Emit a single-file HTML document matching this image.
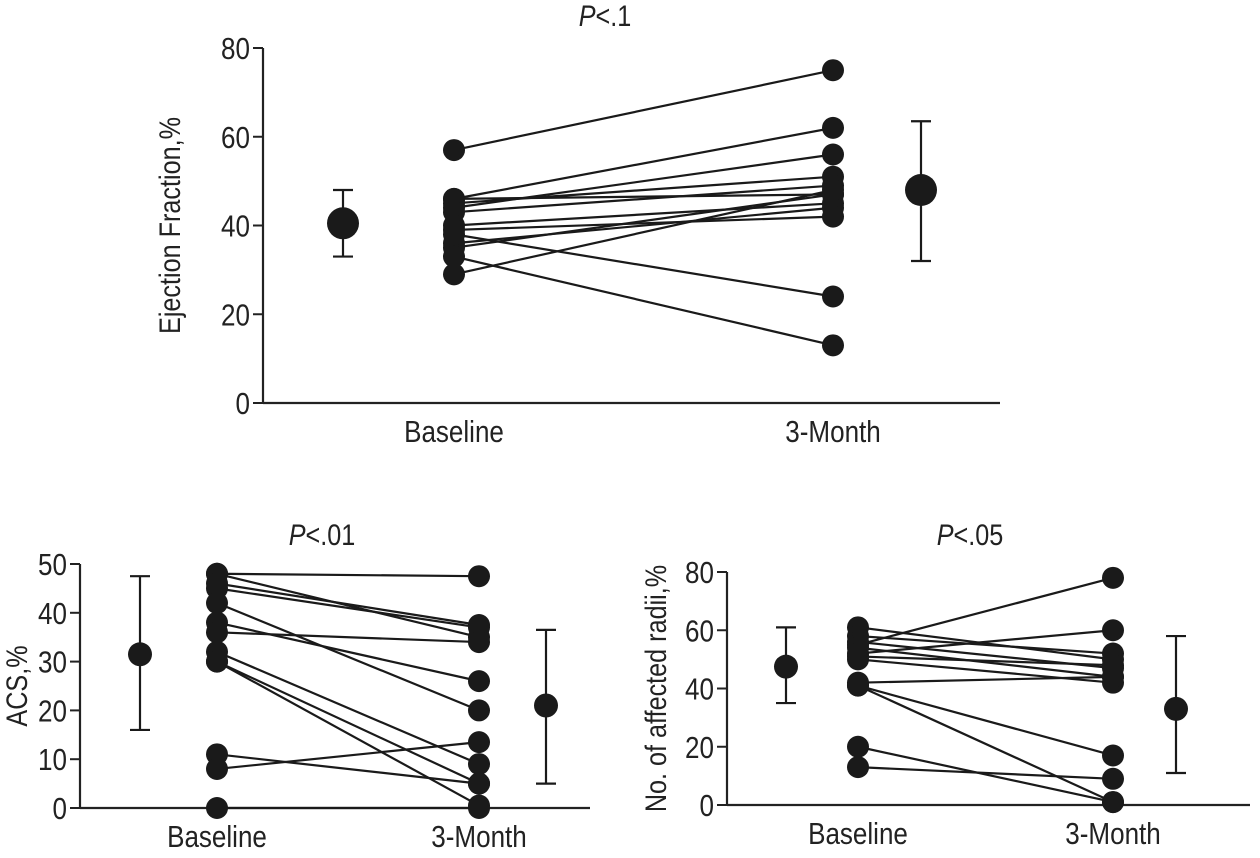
<!DOCTYPE html>
<html><head><meta charset="utf-8"><style>
html,body{margin:0;padding:0;background:#fff;width:1260px;height:858px;overflow:hidden}
svg text{font-family:"Liberation Sans",sans-serif;fill:#222}
</style></head><body>
<svg id="svg" width="1260" height="858" xmlns="http://www.w3.org/2000/svg"></svg>
<script>
// Panel A: Ejection Fraction
const efBaseline=[57,46,44,45,46,43,40,35,36,39,29,38,33];
const efMonth3=[75,62,56,51,47,49,45,47,44,42,48,24,13];
const efMean=[40.5,48];const efErrLo=[33,32];const efErrHi=[48,63.5];
const efTicks=[0,20,40,60,80];
// Panel B: ACS
const acsBaseline=[48,48,46,45,42,38,36,32,30,30,11,8,0];
const acsMonth3=[47.5,35,37.5,37,20,26,34,9,5,0.5,5,13.5,0];
const acsMean=[31.5,21];const acsErrLo=[16,5];const acsErrHi=[47.5,36.5];
const acsTicks=[0,10,20,30,40,50];
// Panel C: affected radii
const radBaseline=[61,58,56,55,54,52,51,50,42,41,41,20,13];
const radMonth3=[50,52,47,78,44,60,48,42,44,17,1,1,9];
const radMean=[47.5,33];const radErrLo=[35,11];const radErrHi=[61,58];
const radTicks=[0,20,40,60,80];
const categories=["Baseline","3-Month"];

const svg=document.getElementById('svg');
const NS="http://www.w3.org/2000/svg";
function mk(tag,attrs,parent){const e=document.createElementNS(NS,tag);for(const k in attrs)e.setAttribute(k,attrs[k]);(parent||svg).appendChild(e);return e;}
function txt(parent,x,y,anchor,size,html,rot){
  const w=mk('g',{transform:`translate(${x},${y})${rot?' rotate(-90)':''} scale(0.84,1)`},parent);
  const t=mk('text',{x:0,y:0,'text-anchor':anchor,'font-size':size},w);
  t.innerHTML=html;
  return t;
}

function panel(cfg){
  const g=mk('g',{});
  
  
  const y=v=>cfg.y0-(v-cfg.vmin)/(cfg.vmax-cfg.vmin)*(cfg.y0-cfg.y1);
  const ax=mk('line',{x1:cfg.ax,y1:cfg.y1,x2:cfg.ax,y2:cfg.y0,stroke:'#222','stroke-width':2.2},g);
  
  
  const xa=mk('line',{x1:cfg.ax,y1:cfg.y0,x2:cfg.axEnd,y2:cfg.y0,stroke:'#222','stroke-width':2.2},g);
  
  
  cfg.ticks.forEach(t=>{
    mk('line',{x1:cfg.ax-10,y1:y(t),x2:cfg.ax,y2:y(t),stroke:'#222','stroke-width':2},g);
    const tx=txt(g,cfg.ax-13,y(t)+11,'end',31,String(t));
    
    
  });
  const yt=txt(g,cfg.ytx,(cfg.y0+cfg.y1)/2,'middle',30,cfg.ytitle,true);
  
  
  const ti=txt(g,cfg.titleX,cfg.titleY,'middle',30,'<tspan font-style="italic">P</tspan>'+cfg.p);
  
  
  categories.forEach((c,i)=>{
    const t=txt(g,cfg.cx[i],cfg.y0+39,'middle',31,c);
    
    
  });
  cfg.b.forEach((v,i)=>{
    const l=mk('line',{x1:cfg.cx[0],y1:y(v),x2:cfg.cx[1],y2:y(cfg.m[i]),stroke:'#1a1a1a','stroke-width':2.2},g);
    
    
  });
  [cfg.b,cfg.m].forEach((arr,k)=>arr.forEach(v=>{
    const c=mk('circle',{cx:cfg.cx[k],cy:y(v),r:11,fill:'#1a1a1a'},g);
    
    
  }));
  cfg.mean.forEach((v,i)=>{
    const x=cfg.mx[i];
    const e=mk('path',{d:`M${x},${y(cfg.lo[i])}V${y(cfg.hi[i])}M${x-10},${y(cfg.lo[i])}H${x+10}M${x-10},${y(cfg.hi[i])}H${x+10}`,stroke:'#1a1a1a','stroke-width':2.2,fill:'none'},g);
    
    
    const c=mk('circle',{cx:x,cy:y(v),r:cfg.mr,fill:'#1a1a1a'},g);
    
    
  });
}
panel({name:'ejection-fraction-panel',ax:263,axEnd:1000,y0:403,y1:48,vmin:0,vmax:80,ticks:efTicks,ytx:180,ytitle:'Ejection Fraction,%',titleX:605,titleY:26,p:'&lt;.1',cx:[454,833],b:efBaseline,m:efMonth3,mean:efMean,lo:efErrLo,hi:efErrHi,mx:[343,921],mr:16});
panel({name:'acs-panel',ax:80,axEnd:590,y0:808,y1:564,vmin:0,vmax:50,ticks:acsTicks,ytx:27,ytitle:'ACS,%',titleX:322,titleY:545,p:'&lt;.01',cx:[217,479],b:acsBaseline,m:acsMonth3,mean:acsMean,lo:acsErrLo,hi:acsErrHi,mx:[140,546],mr:12});
panel({name:'affected-radii-panel',ax:727,axEnd:1250,y0:805,y1:572,vmin:0,vmax:80,ticks:radTicks,ytx:666,ytitle:'No. of affected radii,%',titleX:970,titleY:545,p:'&lt;.05',cx:[858,1113],b:radBaseline,m:radMonth3,mean:radMean,lo:radErrLo,hi:radErrHi,mx:[786,1176],mr:12});
</script>
</body></html>
